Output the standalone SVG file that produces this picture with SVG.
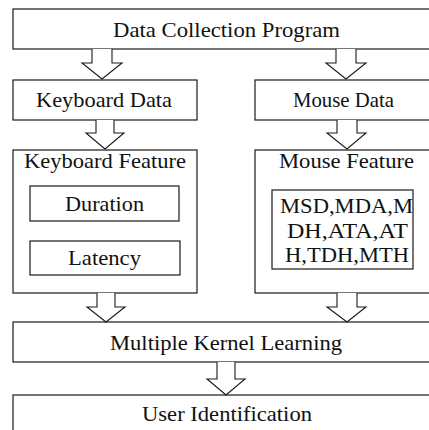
<svg xmlns="http://www.w3.org/2000/svg" width="429" height="430" viewBox="0 0 429 430">
<defs>
<style>
.box{fill:#fff;stroke:#1a1a1a;stroke-width:1.2}
.arr{fill:#fff;stroke:#1a1a1a;stroke-width:1.1;stroke-linejoin:miter}
</style>
</defs>
<rect width="429" height="430" fill="#fff"/>
<g font-family="Liberation Serif, Times New Roman, serif" font-size="22" fill="#111">
<g id="data-collection"><rect class="box" x="13" y="9" width="430" height="40"/><text x="113" y="36.5" textLength="227" lengthAdjust="spacingAndGlyphs">Data Collection Program</text></g>
<g id="keyboard-data"><rect class="box" x="13" y="80" width="184" height="40"/><text x="36" y="106.5" textLength="136" lengthAdjust="spacingAndGlyphs">Keyboard Data</text></g>
<g id="mouse-data"><rect class="box" x="255" y="80" width="190" height="40"/><text x="293" y="106.5" textLength="101" lengthAdjust="spacingAndGlyphs">Mouse Data</text></g>
<g id="keyboard-feature"><rect class="box" x="13" y="150" width="184" height="143"/><text x="24" y="167.5" textLength="162" lengthAdjust="spacingAndGlyphs">Keyboard Feature</text></g>
<g id="duration"><rect class="box" x="30" y="186" width="149" height="35"/><text x="65" y="210.5" textLength="79" lengthAdjust="spacingAndGlyphs">Duration</text></g>
<g id="latency"><rect class="box" x="30" y="241" width="150" height="34"/><text x="68" y="264.5" textLength="73" lengthAdjust="spacingAndGlyphs">Latency</text></g>
<g id="mouse-feature"><rect class="box" x="255" y="150" width="190" height="143"/><text x="279" y="167.5" textLength="135" lengthAdjust="spacingAndGlyphs">Mouse Feature</text></g>
<g id="mouse-metrics"><rect class="box" x="272" y="190" width="141" height="79"/>
<text x="280" y="212.5" textLength="133" lengthAdjust="spacingAndGlyphs">MSD,MDA,M</text>
<text x="287" y="237.5" textLength="121" lengthAdjust="spacingAndGlyphs">DH,ATA,AT</text>
<text x="285" y="261.5" textLength="124" lengthAdjust="spacingAndGlyphs">H,TDH,MTH</text></g>
<g id="mkl"><rect class="box" x="13" y="322" width="430" height="40"/><text x="110" y="349.5" textLength="232" lengthAdjust="spacingAndGlyphs">Multiple Kernel Learning</text></g>
<g id="user-identification"><rect class="box" x="13" y="395" width="430" height="50"/><text x="142" y="420.5" textLength="170" lengthAdjust="spacingAndGlyphs">User Identification</text></g>
</g>
<g id="connectors">
<path class="arr" d="M92,49 V63 H82 L102,79 L122,63 H112 V49"/>
<path class="arr" d="M336,49 V63 H326 L346,79 L366,63 H356 V49"/>
<path class="arr" d="M96,120 V133 H86 L105,149 L124,133 H114 V120"/>
<path class="arr" d="M337,120 V133 H327 L347,149 L366,133 H357 V120"/>
<path class="arr" d="M97,293 V307 H87 L106,322 L125,307 H115 V293"/>
<path class="arr" d="M337,293 V307 H327 L347,322 L366,307 H357 V293"/>
<path class="arr" d="M217,362 V379 H207 L226,395 L245,379 H235 V362"/>
</g>
</svg>
